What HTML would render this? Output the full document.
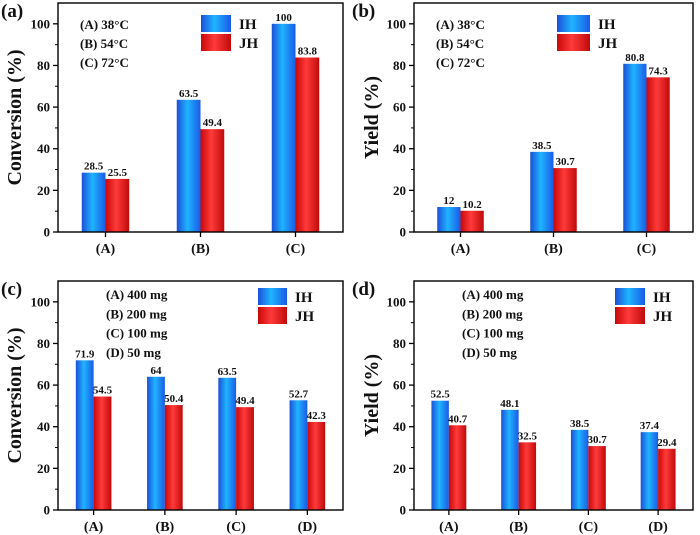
<!DOCTYPE html>
<html><head><meta charset="utf-8"><style>
body{margin:0;background:#fff}
svg{display:block}
text{font-family:"Liberation Serif",serif;font-weight:bold;fill:#111}
</style></head><body>
<svg id="c" width="700" height="535" viewBox="0 0 700 535">
<defs>
<linearGradient id="gb" x1="0" x2="1" y1="0" y2="0"><stop offset="0" stop-color="#1c4fd8"/><stop offset="0.45" stop-color="#1fb4ff"/><stop offset="1" stop-color="#1a5be6"/></linearGradient>
<linearGradient id="gr" x1="0" x2="1" y1="0" y2="0"><stop offset="0" stop-color="#c80808"/><stop offset="0.45" stop-color="#ff3a3a"/><stop offset="1" stop-color="#c00a0a"/></linearGradient>
</defs>
</svg>
<script>
const catsTemp = ["(A)","(B)","(C)"];
const catsMass = ["(A)","(B)","(C)","(D)"];
const convTempIH = [28.5,63.5,100];
const convTempJH = [25.5,49.4,83.8];
const yieldTempIH = [12,38.5,80.8];
const yieldTempJH = [10.2,30.7,74.3];
const convMassIH = [71.9,64,63.5,52.7];
const convMassJH = [54.5,50.4,49.4,42.3];
const yieldMassIH = [52.5,48.1,38.5,37.4];
const yieldMassJH = [40.7,32.5,30.7,29.4];
const yTicks = [0,20,40,60,80,100];
const tempNotes = ["(A) 38°C","(B) 54°C","(C) 72°C"];
const massNotes = ["(A) 400 mg","(B) 200 mg","(C) 100 mg","(D) 50 mg"];
const svg = document.getElementById('c');
const NS = 'http://www.w3.org/2000/svg';
function mk(tag, attrs, parent){const e=document.createElementNS(NS,tag);for(const k in attrs)e.setAttribute(k,attrs[k]);(parent||svg).appendChild(e);return e;}
function panel(p){
  const g=mk('g',{});
  
  
  const yS=v=>p.bottom-(v/110)*(p.bottom-p.top);
  const n=p.cats.length, step=(p.right-p.left)/n;
  const xC=i=>p.left+step*(i+0.5);
  const bw=step*0.25;
  // ticks
  yTicks.forEach(t=>{
    const y=yS(t);
    const l=mk('line',{x1:p.left-5,x2:p.left,y1:y,y2:y,stroke:'#000','stroke-width':1.3},g);
    
    
    const tx=mk('text',{x:p.left-8,y:y+4.5,'text-anchor':'end','font-size':13},g);
    tx.textContent=t;
    
    
    if(t<100){const m=mk('line',{x1:p.left-3,x2:p.left,y1:yS(t+10),y2:yS(t+10),stroke:'#000','stroke-width':1},g);
      
      }
  });
  p.cats.forEach((c,i)=>{
    const ib=mk('rect',{x:xC(i)-bw,y:yS(p.ih[i]),width:bw,height:p.bottom-yS(p.ih[i]),fill:'url(#gb)'},g);
    
    
    const jb=mk('rect',{x:xC(i),y:yS(p.jh[i]),width:bw,height:p.bottom-yS(p.jh[i]),fill:'url(#gr)'},g);
    
    
    const t1=mk('text',{x:xC(i)-bw/2,y:yS(p.ih[i])-3,'text-anchor':'middle','font-size':11},g);
    t1.textContent=p.ih[i];
    
    
    const t2=mk('text',{x:xC(i)+bw/2,y:yS(p.jh[i])-3,'text-anchor':'middle','font-size':11},g);
    t2.textContent=p.jh[i];
    
    
    const tk=mk('line',{x1:xC(i),x2:xC(i),y1:p.bottom,y2:p.bottom+5,stroke:'#000','stroke-width':1.3},g);
    
    
    const cl=mk('text',{x:xC(i),y:p.bottom+21,'text-anchor':'middle','font-size':14},g);
    cl.textContent=c;
    
    
  });
  const fr=mk('rect',{x:p.left,y:p.top,width:p.right-p.left,height:p.bottom-p.top,fill:'none',stroke:'#000','stroke-width':1.4},g);
  
  
  const yl=mk('text',{x:0,y:0,'text-anchor':'middle','font-size':20,transform:`translate(${p.ylx},${(p.top+p.bottom)/2}) rotate(-90)`},g);
  yl.textContent=p.ylabel;
  
  
  const pl=mk('text',{x:p.plx,y:p.top+14,'font-size':19},g);
  pl.textContent='('+p.id+')';
  
  
  p.notes.forEach((s,i)=>{
    const t=mk('text',{x:p.nx,y:p.ny+i*p.nstep+5,'font-size':13},g);
    t.textContent=s;
    
    
  });
  [['IH','url(#gb)'],['JH','url(#gr)']].forEach((L,i)=>{
    const y=p.ly+i*19;
    const r=mk('rect',{x:p.lx,y:y,width:p.lw,height:17,fill:L[1]},g);
    
    
    const t=mk('text',{x:p.lx+p.lw+8,y:y+14,'font-size':15},g);
    t.textContent=L[0];
    
    
  });
}
panel({id:'a',cats:catsTemp,ih:convTempIH,jh:convTempJH,left:58,right:343,top:3,bottom:232,ylabel:'Conversion (%)',ylx:21,plx:1,notes:tempNotes,nx:80,ny:24,nstep:19,lx:201,ly:15,lw:30});
panel({id:'b',cats:catsTemp,ih:yieldTempIH,jh:yieldTempJH,left:414,right:693,top:3,bottom:232,ylabel:'Yield (%)',ylx:378,plx:352,notes:tempNotes,nx:436,ny:24,nstep:19,lx:557,ly:15,lw:33});
panel({id:'c',cats:catsMass,ih:convMassIH,jh:convMassJH,left:58,right:343,top:281,bottom:510,ylabel:'Conversion (%)',ylx:21,plx:1,notes:massNotes,nx:106,ny:294,nstep:19.3,lx:258,ly:288,lw:29});
panel({id:'d',cats:catsMass,ih:yieldMassIH,jh:yieldMassJH,left:414,right:693,top:281,bottom:510,ylabel:'Yield (%)',ylx:378,plx:352,notes:massNotes,nx:462,ny:294,nstep:19.3,lx:615,ly:288,lw:30});
</script>
</body></html>
